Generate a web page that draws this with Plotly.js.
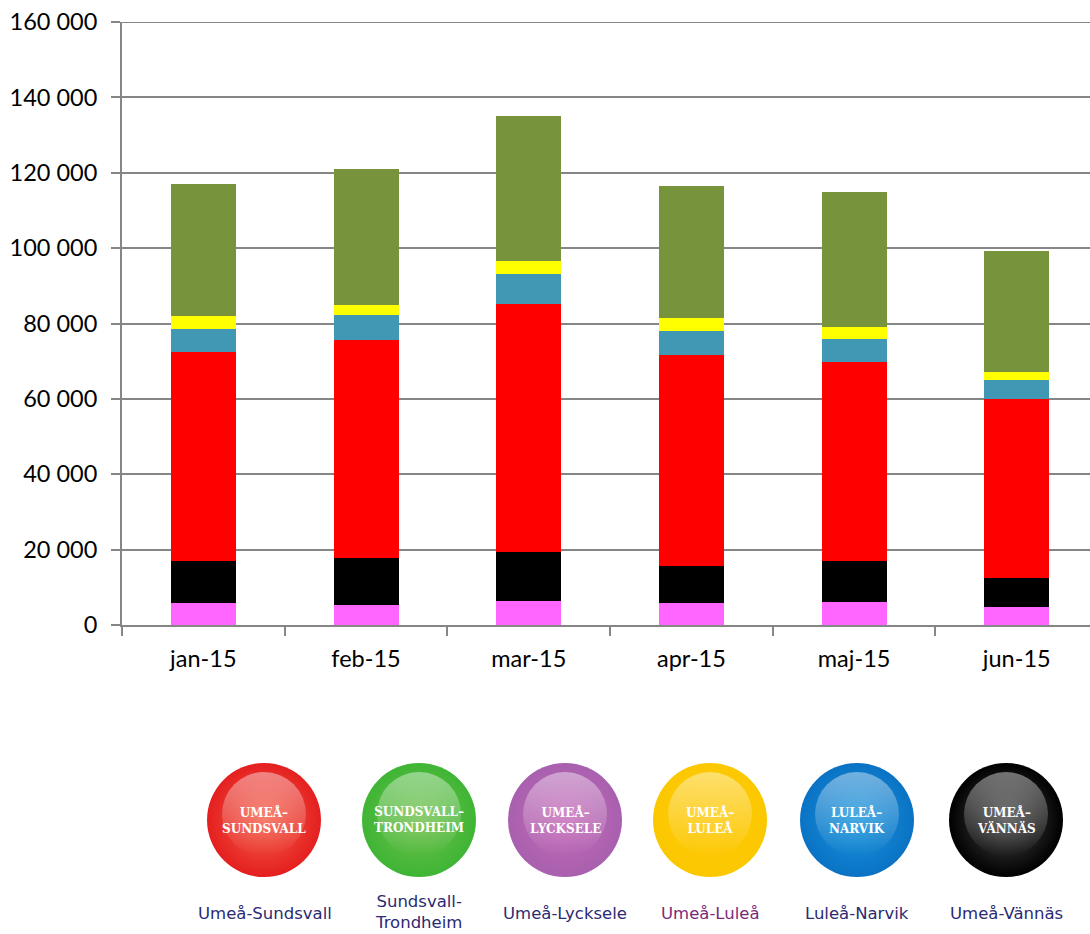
<!DOCTYPE html>
<html>
<head>
<meta charset="utf-8">
<script src="https://cdn.plot.ly/plotly-3.0.1.min.js"></script>
<style>
html,body{margin:0;padding:0;background:#fff;overflow:hidden}
#chart{width:1090px;height:934px}
</style>
</head>
<body>
<div id="chart"></div>
<script>
// Monthly passengers per route, stacked from the bottom up
const months = ['jan-15','feb-15','mar-15','apr-15','maj-15','jun-15'];
const umeaLycksele = [5900,5300,6500,5800,6200,4800];
const umeaVannas = [11100,12400,12900,9800,10800,7700];
const umeaSundsvall = [55400,57900,65800,56000,52800,47500];
const luleaNarvik = [6100,6600,7900,6400,6000,5000];
const umeaLulea = [3500,2700,3400,3400,3200,2200];
const sundsvallTrondheim = [35000,36100,38500,35000,36000,32100];
const yTicks = [0,20000,40000,60000,80000,100000,120000,140000,160000];
const yTickLabels = ['0','20 000','40 000','60 000','80 000','100 000','120 000','140 000','160 000'];

// Route badges shown under the chart
const badgeLines = ['UMEÅ–<br>SUNDSVALL','SUNDSVALL–<br>TRONDHEIM','UMEÅ–<br>LYCKSELE','UMEÅ–<br>LULEÅ','LULEÅ–<br>NARVIK','UMEÅ–<br>VÄNNÄS'];
const badgeCaptions = ['Umeå-Sundsvall','Sundsvall-<br>Trondheim','Umeå-Lycksele','Umeå-Luleå','Luleå-Narvik','Umeå-Vännäs'];
const badgeEdge = ['#e41f1f','#3fb535','#a860ae','#fbc800','#0a72c4','#000000'];
const badgeCore = ['#f4604a','#6fc04a','#c56ab8','#ffc90a','#1a96dc','#4a4a4a'];
const captionColor = ['#2b2a72','#2b2a72','#2b2a72','#7b2a78','#2b2a72','#2b2a72'];

const W = 1090, H = 934;
const badgeX = [264,419,565,710,857,1006];
const badgeY = 820;

const bar = (name, y, color) => ({type:'bar', name, x:months, y, marker:{color, line:{width:0}}, hoverinfo:'name+y'});
const traces = [
  bar('Umeå-Lycksele', umeaLycksele, '#ff66ff'),
  bar('Umeå-Vännäs', umeaVannas, '#000000'),
  bar('Umeå-Sundsvall', umeaSundsvall, '#ff0000'),
  bar('Luleå-Narvik', luleaNarvik, '#4198b5'),
  bar('Umeå-Luleå', umeaLulea, '#ffff00'),
  bar('Sundsvall-Trondheim', sundsvallTrondheim, '#77933c')
];

// Glossy buttons: a radial base disc plus a translucent highlight above its centre
traces.push({
  type:'scatter', mode:'markers', xaxis:'x2', yaxis:'y2', hoverinfo:'skip',
  x:badgeX, y:badgeX.map(()=>badgeY),
  marker:{size:114, color:badgeEdge, gradient:{type:'radial', color:badgeCore}, line:{width:0}}
});
traces.push({
  type:'scatter', mode:'markers', xaxis:'x2', yaxis:'y2', hoverinfo:'skip',
  x:badgeX, y:badgeX.map(()=>badgeY-6),
  marker:{size:84, color:'rgba(255,255,255,0.42)', gradient:{type:'vertical', color:'rgba(255,255,255,0)'}, line:{width:0}}
});

const annotations = [];
badgeX.forEach((x,i)=>{
  annotations.push({xref:'x2', yref:'y2', x, y:badgeY, text:'<b>'+badgeLines[i]+'</b>', showarrow:false,
    font:{family:'"DejaVu Serif", serif', size:12, color:'#ffffff'}, align:'center'});
  annotations.push({xref:'x2', yref:'y2', x:x+(i===1?-1:i===0?1:0), y:i===1?912:913, text:badgeCaptions[i], showarrow:false,
    font:{family:'"DejaVu Sans", sans-serif', size:16.5, color:captionColor[i]}, align:'center'});
});

const layout = {
  width:W, height:H, showlegend:false, barmode:'stack', bargap:0.6,
  paper_bgcolor:'#fff', plot_bgcolor:'rgba(0,0,0,0)',
  margin:{l:0,r:0,t:0,b:0},
  font:{family:'Lato, sans-serif', size:23.5, color:'#000'},
  xaxis:{domain:[122/W,1], range:[-0.5,5.45], type:'category', tickson:'boundaries', ticks:'outside', ticklen:9, tickwidth:2,
    tickcolor:'#868686', showline:true, linecolor:'#868686', linewidth:2, showgrid:false, zeroline:false, ticklabelstandoff:12},
  yaxis:{domain:[1-625/H,1-22/H], range:[0,160000], tickmode:'array', tickvals:yTicks, ticktext:yTickLabels, ticks:'outside', ticklen:9, tickwidth:2,
    tickcolor:'#868686', showline:true, linecolor:'#868686', linewidth:2, gridcolor:'#868686', gridwidth:2, zeroline:false, ticklabelstandoff:9},
  xaxis2:{domain:[0,1], range:[0,W], visible:false, fixedrange:true, anchor:'y2'},
  yaxis2:{domain:[0,1], range:[H,0], visible:false, fixedrange:true, anchor:'x2'},
  // Gridline along the top of the value axis, which the axis does not draw at its range end
  shapes:[{type:'line', xref:'x domain', yref:'y', x0:0, x1:1, y0:160000, y1:160000, line:{color:'#868686', width:2}, layer:'below'}],
  annotations
};
Plotly.newPlot('chart', traces, layout, {displayModeBar:false, staticPlot:true});
</script>
</body>
</html>
